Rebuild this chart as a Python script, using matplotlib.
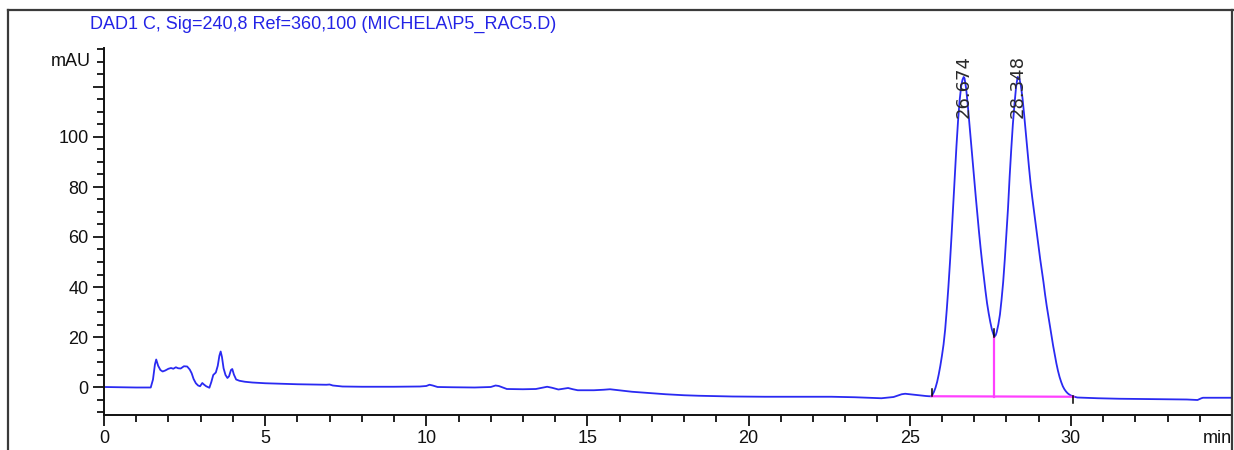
import matplotlib
matplotlib.use("Agg")
import matplotlib.pyplot as plt
from matplotlib.lines import Line2D
from matplotlib.ticker import MultipleLocator, FixedLocator, FixedFormatter

plt.rcParams['font.family'] = ['Liberation Sans Narrow', 'Liberation Sans', 'DejaVu Sans']

# chromatogram trace (time in min, signal in mAU)
time_min = [
    0.0, 0.5, 1.0, 1.45, 1.52, 1.58, 1.62, 1.68, 1.75, 1.82, 1.9, 2.0, 2.08, 2.15,
    2.23, 2.3, 2.38, 2.48, 2.58, 2.66, 2.72, 2.78, 2.85, 2.92, 2.98, 3.05, 3.1,
    3.17, 3.27, 3.33, 3.39, 3.47, 3.53, 3.58, 3.62, 3.66, 3.71, 3.77, 3.83, 3.88,
    3.94, 3.98, 4.03, 4.1, 4.2, 4.37, 4.6, 5.0, 5.5, 6.0, 6.5, 6.9, 7.0, 7.1, 7.4,
    8.0, 9.0, 9.8, 10.0, 10.1, 10.2, 10.35, 10.8, 11.5, 12.0, 12.15, 12.25, 12.5,
    13.0, 13.4, 13.6, 13.75, 13.9, 14.1, 14.3, 14.4, 14.55, 14.7, 15.2, 15.5, 15.7,
    15.9, 16.38, 17.0, 17.43, 18.0, 18.45, 19.5, 20.5, 21.5, 22.57, 23.3, 24.12,
    24.5, 24.75, 24.86, 25.0, 25.26, 25.5, 25.6, 25.68,
    25.70, 25.75, 25.80, 25.85, 25.90, 25.95, 26.00, 26.05, 26.10, 26.15, 26.20,
    26.25, 26.30, 26.35, 26.40, 26.45, 26.50, 26.55, 26.60, 26.64, 26.674, 26.70,
    26.75, 26.80, 26.85, 26.90, 26.95, 27.00, 27.05, 27.10, 27.15, 27.20, 27.25,
    27.30, 27.35, 27.40, 27.45, 27.50, 27.55, 27.60, 27.63, 27.67, 27.70, 27.75,
    27.80, 27.85, 27.90, 27.95, 28.00, 28.05, 28.10, 28.15, 28.20, 28.25, 28.30,
    28.348, 28.40, 28.45, 28.50, 28.55, 28.60, 28.65, 28.70, 28.75, 28.80, 28.84,
    28.90, 28.95, 29.00, 29.05, 29.10, 29.15, 29.20, 29.25, 29.30, 29.35, 29.40,
    29.45, 29.50, 29.55, 29.60, 29.65, 29.70, 29.75, 29.80, 29.85, 29.90, 29.95,
    30.00, 30.08, 30.20, 30.84, 31.5, 32.28, 33.0, 33.6, 33.93, 34.05, 34.1, 35.0,
]
signal_mau = [
    0.0, -0.1, -0.2, -0.2, 3.0, 9.0, 11.0, 8.5, 6.8, 6.2, 6.6, 7.3, 7.6, 7.3,
    7.9, 7.5, 7.4, 8.3, 8.2, 7.0, 5.5, 3.2, 1.5, 0.6, 0.3, 1.6, 1.0,
    0.3, -0.3, 2.0, 4.8, 5.8, 8.5, 12.5, 14.2, 12.0, 7.5, 4.8, 3.6, 4.3,
    6.8, 7.2, 5.0, 3.0, 2.5, 2.1, 1.8, 1.5, 1.3, 1.1, 1.0, 0.9, 1.0, 0.6, 0.2,
    0.1, 0.1, 0.2, 0.4, 0.9, 0.6, 0.0, -0.1, -0.2, 0.0, 0.6, 0.4, -0.8,
    -0.9, -0.8, -0.3, 0.1, -0.3, -1.0, -0.6, -0.4, -0.9, -1.3, -1.3, -1.1, -0.9,
    -1.2, -1.9, -2.5, -2.9, -3.3, -3.5, -3.8, -3.9, -3.9, -3.9, -4.1, -4.5,
    -4.0, -2.9, -2.7, -2.9, -3.3, -3.6, -3.7, -3.7,
    -3.2, -2.0, -0.3, 2.0, 5.0, 8.5, 12.5, 17.0, 23.0, 31.0, 40.0,
    50.0, 61.0, 73.0, 84.8, 96.3, 106.5, 114.8, 120.6, 123.0, 124.0, 123.5,
    119.5, 113.0, 105.5, 98.0, 90.5, 83.0, 76.0, 69.0, 62.0, 55.5, 49.5,
    44.0, 38.5, 33.5, 29.5, 26.0, 23.0, 21.0, 20.1, 20.8, 22.0, 25.0,
    29.0, 35.0, 42.0, 51.0, 61.0, 71.5, 84.0, 95.0, 105.0, 113.0, 120.0,
    124.0, 123.5, 120.5, 115.5, 109.0, 102.0, 95.0, 88.0, 81.5, 76.0, 72.0,
    66.0, 61.0, 56.0, 51.0, 46.5, 42.0, 37.0, 32.5, 28.5, 24.5, 20.5,
    16.5, 13.0, 9.5, 6.5, 4.0, 2.0, 0.3, -0.9, -1.8, -2.5, -3.0,
    -3.4, -3.8, -4.2, -4.5, -4.7, -4.8, -4.9, -5.0, -5.2, -4.5, -4.3, -4.3,
]

# integration events
peak_rt = [26.674, 28.348]
peak_labels = ["26.674", "28.348"]
peak_top = [124.0, 124.0]
base_t = [25.68, 27.63, 30.08]
base_y = [-3.7, -3.8, -3.9]
valley_y = 20.1

fig = plt.figure(figsize=(12.34, 4.5), dpi=100)
ax = fig.add_axes([104 / 1234, 35 / 450, 1128 / 1234, 367 / 450])

# outer frame of the report panel
frame_kw = dict(color="#3a3a3a", lw=1.6, transform=fig.transFigure)
fig.add_artist(Line2D([8 / 1234, 8 / 1234], [0, 440 / 450], **frame_kw))
fig.add_artist(Line2D([8 / 1234, 1], [440 / 450, 440 / 450], **frame_kw))
fig.add_artist(Line2D([1232 / 1234, 1232 / 1234], [0, 440 / 450], **frame_kw))

ax.plot(time_min, signal_mau, color="#2a2af2", lw=1.3, solid_joinstyle="round")

# baseline and drop line
pink = "#ff40ff"
ax.plot([base_t[0], base_t[2]], [base_y[0], base_y[2]], color=pink, lw=1.6)
ax.plot([base_t[1], base_t[1]], [base_y[1], valley_y], color=pink, lw=1.6)

# event ticks
ax.plot([base_t[0], base_t[0]], [base_y[0], base_y[0] + 3.0], color="k", lw=1.1)
ax.plot([base_t[1], base_t[1]], [valley_y, valley_y + 3.0], color="k", lw=1.1)
ax.plot([base_t[2], base_t[2]], [base_y[2] + 0.5, base_y[2] - 2.5], color="k", lw=1.1)

for rt, lab, top in zip(peak_rt, peak_labels, peak_top):
    ax.text(rt, 107.5, lab, rotation=90, ha="center", va="bottom",
            fontsize=13, color="#2a2a2a", family="DejaVu Sans")

ax.set_xlim(0, 35)
ax.set_ylim(-11.2, 135.6)

for s in ["top", "right"]:
    ax.spines[s].set_visible(False)
for s in ["left", "bottom"]:
    ax.spines[s].set_linewidth(1.4)
    ax.spines[s].set_color("#111111")

x_major = [0, 5, 10, 15, 20, 25, 30, 35]
x_labels = ["0", "5", "10", "15", "20", "25", "30", "min"]
ax.xaxis.set_major_locator(FixedLocator(x_major))
ax.xaxis.set_major_formatter(FixedFormatter(x_labels))
ax.xaxis.set_minor_locator(MultipleLocator(1))

y_major = [0, 20, 40, 60, 80, 100, 120]
y_labels = ["0", "20", "40", "60", "80", "100", ""]
ax.yaxis.set_major_locator(FixedLocator(y_major))
ax.yaxis.set_major_formatter(FixedFormatter(y_labels))
ax.yaxis.set_minor_locator(MultipleLocator(5))

ax.tick_params(axis="both", which="major", length=8, width=1.3, labelsize=13,
               colors="#111111", pad=3)
ax.tick_params(axis="both", which="minor", length=5, width=1.3, colors="#111111")
ax.get_xticklabels()[-1].set_horizontalalignment("right")

ax.text(-0.012, 130, "mAU", transform=ax.get_yaxis_transform(), ha="right",
        va="center", fontsize=13, color="#111111")

fig.text(323 / 1234, 1 - 24 / 450, "DAD1 C, Sig=240,8 Ref=360,100 (MICHELA\\P5_RAC5.D)",
         ha="center", va="center", fontsize=13, color="#2323e6")

fig.savefig("out.png", dpi=100)
